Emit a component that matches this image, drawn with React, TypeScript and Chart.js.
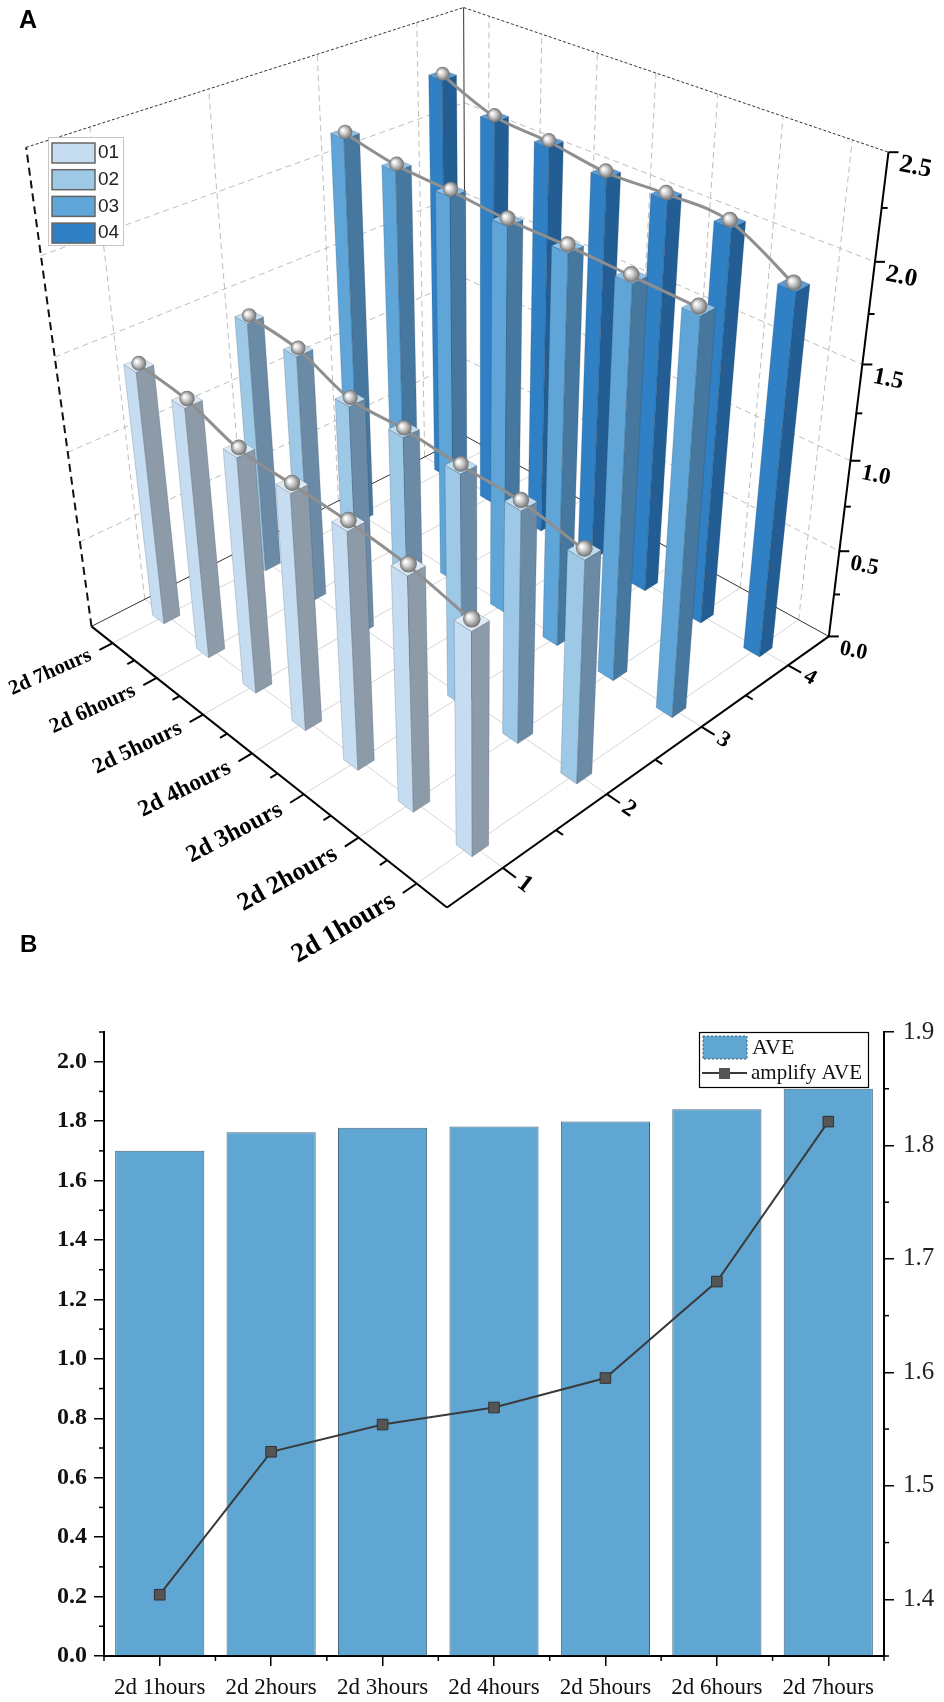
import { useEffect, useRef } from "react"
import Chart from "chart.js/auto"

// ---- panel A: four runs (rows) over seven time points ----
const hourLabels = ["2d 1hours", "2d 2hours", "2d 3hours", "2d 4hours", "2d 5hours", "2d 6hours", "2d 7hours"]
const seriesNames = ["01", "02", "03", "04"]
const series01 = [1.17, 1.24, 1.27, 1.28, 1.29, 1.38, 1.41]
const series02 = [1.19, 1.25, 1.26, 1.28, 1.28, 1.39, 1.42]
const series03 = [2.06, 2.07, 2.08, 2.08, 2.1, 2.11, 2.16]
const series04 = [1.94, 2.11, 2.12, 2.11, 2.15, 2.17, 2.28]
const depthTicks = [1, 2, 3, 4]
const zTicks = [0, 0.5, 1, 1.5, 2, 2.5]

// ---- panel B: average and amplified average ----
const aveValues = [1.7, 1.763, 1.778, 1.782, 1.799, 1.84, 1.909]
const amplifyAve = [1.404, 1.53, 1.554, 1.569, 1.595, 1.68, 1.821]
const leftTicks = [0, 0.2, 0.4, 0.6, 0.8, 1.0, 1.2, 1.4, 1.6, 1.8, 2.0]
const rightTicks = [1.4, 1.5, 1.6, 1.7, 1.8, 1.9]

const seriesFront = ["#c6dcf0", "#9dc8e6", "#5fa5d8", "#2f80c4"]
const seriesSide = ["#8d9aa8", "#6a8aa5", "#45779f", "#225e93"]
const seriesTop = ["#dfeaf5", "#c0dcef", "#8fc1e5", "#5d9dd3"]
const aveColor = "#5fa6d2"
const SERIF = '"Liberation Serif", "Times New Roman", serif'
const SANS = '"Liberation Sans", Arial, sans-serif'

// where the unit box (hours, depth, value all mapped to 0..1) sits on the canvas
const frameAnchors = [
  [0, 0, 0, 447, 908],
  [1, 0, 0, 92, 627],
  [0, 1, 0, 828, 636],
  [0, 1, 1, 888, 152],
  [1, 0, 1, 27, 147],
  [1, 1, 1, 463, 7],
  [0, 1, 0.2, 840, 552],
  [0, 1, 0.4, 850, 462],
  [0, 1, 0.6, 863, 365],
  [0, 1, 0.8, 875, 262],
  [0.5 / 7, 0, 0, 416, 884],
  [3.5 / 7, 0, 0, 250, 752],
  [6.5 / 7, 0, 0, 113, 644],
  [0, 1.5 / 4, 0, 608, 793],
  [0, 3.5 / 4, 0, 789, 664],
]

// least squares fit of a perspective camera (DLT)
function fitCamera(pts: number[][]) {
  const rows: number[][] = []
  for (const [a, b, c, px, py] of pts) {
    const u = px / 1000
    const v = py / 1000
    rows.push([a, b, c, 1, 0, 0, 0, 0, -u * a, -u * b, -u * c, u])
    rows.push([0, 0, 0, 0, a, b, c, 1, -v * a, -v * b, -v * c, v])
  }
  const n = 11
  const m = Array.from({ length: n }, () => new Array(n + 1).fill(0))
  for (const r of rows)
    for (let i = 0; i < n; i++) {
      for (let j = 0; j < n; j++) m[i][j] += r[i] * r[j]
      m[i][n] += r[i] * r[n]
    }
  for (let col = 0; col < n; col++) {
    let piv = col
    for (let r = col + 1; r < n; r++) if (Math.abs(m[r][col]) > Math.abs(m[piv][col])) piv = r
    const tmp = m[col]
    m[col] = m[piv]
    m[piv] = tmp
    for (let r = 0; r < n; r++) {
      if (r === col) continue
      const f = m[r][col] / m[col][col]
      for (let j = col; j <= n; j++) m[r][j] -= f * m[col][j]
    }
  }
  return m.map((r, i) => r[n] / r[i])
}

const cam = fitCamera(frameAnchors)

function proj(a: number, b: number, c: number) {
  const w = cam[8] * a + cam[9] * b + cam[10] * c + 1
  return {
    x: (1000 * (cam[0] * a + cam[1] * b + cam[2] * c + cam[3])) / w,
    y: (1000 * (cam[4] * a + cam[5] * b + cam[6] * c + cam[7])) / w,
    w,
  }
}

const box3dPlugin = {
  id: "box3d",
  afterDraw(chart: any) {
    const ctx: CanvasRenderingContext2D = chart.ctx
    const sx = chart.scales.x
    const sy = chart.scales.y
    const sd = chart.scales.depth
    const ha = (k: number) => (k - sx.min) / (sx.max - sx.min)
    const db = (d: number) => (d - sd.min) / (sd.max - sd.min)
    const vc = (v: number) => (v - sy.min) / (sy.max - sy.min)
    const wRef = proj(0.5, 0.5, 0).w

    const seg = (p: number[], q: number[]) => {
      const A = proj(p[0], p[1], p[2])
      const B = proj(q[0], q[1], q[2])
      ctx.beginPath()
      ctx.moveTo(A.x, A.y)
      ctx.lineTo(B.x, B.y)
      ctx.stroke()
    }
    const face = (pts: number[][], fill: string) => {
      ctx.beginPath()
      pts.forEach((p, i) => {
        const P = proj(p[0], p[1], p[2])
        if (i) ctx.lineTo(P.x, P.y)
        else ctx.moveTo(P.x, P.y)
      })
      ctx.closePath()
      ctx.fillStyle = fill
      ctx.fill()
      ctx.stroke()
    }
    const text = (s: string, x: number, y: number, angle: number, font: string, align: CanvasTextAlign) => {
      ctx.save()
      ctx.translate(x, y)
      ctx.rotate(angle)
      ctx.font = font
      ctx.textAlign = align
      ctx.textBaseline = "middle"
      ctx.fillStyle = "#000"
      ctx.fillText(s, 0, 0)
      ctx.restore()
    }

    ctx.save()
    ctx.lineWidth = 1

    // floor grid
    ctx.strokeStyle = "#d6d6d6"
    ctx.setLineDash([])
    hourLabels.forEach((_, k) => seg([ha(k), 0, 0], [ha(k), 1, 0]))
    depthTicks.forEach((d) => seg([0, db(d), 0], [1, db(d), 0]))

    // wall grids
    ctx.strokeStyle = "#bdbdbd"
    ctx.setLineDash([6, 4])
    depthTicks.forEach((d) => seg([1, db(d), 0], [1, db(d), 1]))
    hourLabels.forEach((_, k) => seg([ha(k), 1, 0], [ha(k), 1, 1]))
    zTicks.slice(1, -1).forEach((v) => {
      seg([1, 0, vc(v)], [1, 1, vc(v)])
      seg([1, 1, vc(v)], [0, 1, vc(v)])
    })

    // box edges
    ctx.strokeStyle = "#333"
    ctx.setLineDash([])
    seg([1, 0, 0], [1, 1, 0])
    seg([0, 1, 0], [1, 1, 0])
    seg([1, 1, 0], [1, 1, 1])
    ctx.setLineDash([3, 2])
    seg([1, 0, 1], [1, 1, 1])
    seg([1, 1, 1], [0, 1, 1])
    ctx.lineWidth = 2
    ctx.strokeStyle = "#111"
    ctx.setLineDash([8, 5])
    seg([1, 0, 0], [1, 0, 1])

    // axes
    ctx.setLineDash([])
    ctx.strokeStyle = "#000"
    ctx.lineWidth = 2
    seg([0, 0, 0], [1, 0, 0])
    seg([0, 0, 0], [0, 1, 0])
    seg([0, 1, 0], [0, 1, 1])

    const wMid = proj(ha(3), 0, 0).w
    hourLabels.forEach((lab, k) => {
      seg([ha(k), 0, 0], [ha(k), -0.03, 0])
      if (k < hourLabels.length - 1) seg([ha(k + 0.5), 0, 0], [ha(k + 0.5), -0.016, 0])
      const p = proj(ha(k), -0.05, 0)
      const q = proj(ha(k), 0.1, 0)
      const o = proj(ha(k), 0, 0)
      const size = 23.5 * Math.pow(wMid / o.w, 1.6)
      const angle = 0.87 * Math.atan2(q.y - o.y, q.x - o.x)
      text(lab, p.x, p.y, angle, `bold ${size.toFixed(1)}px ${SERIF}`, "right")
    })
    depthTicks.forEach((d, i) => {
      seg([0, db(d), 0], [-0.03, db(d), 0])
      if (i < depthTicks.length - 1) seg([0, db(d + 0.5), 0], [-0.016, db(d + 0.5), 0])
      const p = proj(-0.05, db(d), 0)
      const o = proj(0, db(d), 0)
      const q = proj(0.1, db(d), 0)
      const size = 21 * (wRef / o.w)
      text(String(d), p.x, p.y, Math.atan2(o.y - q.y, o.x - q.x), `bold ${size.toFixed(1)}px ${SERIF}`, "center")
    })
    zTicks.forEach((v, i) => {
      const o = proj(0, 1, vc(v))
      ctx.beginPath()
      ctx.moveTo(o.x, o.y)
      ctx.lineTo(o.x + 10, o.y)
      ctx.stroke()
      if (i < zTicks.length - 1) {
        const m = proj(0, 1, vc(v + 0.25))
        ctx.beginPath()
        ctx.moveTo(m.x, m.y)
        ctx.lineTo(m.x + 6, m.y)
        ctx.stroke()
      }
      const size = 22 * (wRef / o.w)
      text(v.toFixed(1), o.x + 11, o.y + 12, 0.2, `bold ${size.toFixed(1)}px ${SERIF}`, "left")
    })

    // bars, back row first, each row from the far end forward
    const hw = 0.019
    ctx.lineWidth = 0.6
    for (let s = chart.data.datasets.length - 1; s >= 0; s--) {
      const ds = chart.data.datasets[s]
      const b = db(s + 1)
      for (let k = ds.data.length - 1; k >= 0; k--) {
        const a = ha(ds.data[k].x)
        const c = vc(ds.data[k].y)
        ctx.strokeStyle = "rgba(40,60,80,0.35)"
        face([[a - hw, b - hw, 0], [a + hw, b - hw, 0], [a + hw, b - hw, c], [a - hw, b - hw, c]], seriesFront[s])
        face([[a - hw, b - hw, 0], [a - hw, b + hw, 0], [a - hw, b + hw, c], [a - hw, b - hw, c]], seriesSide[s])
        face([[a - hw, b - hw, c], [a + hw, b - hw, c], [a + hw, b + hw, c], [a - hw, b + hw, c]], seriesTop[s])
      }
      // connecting line through the bar tops
      const pts = ds.data.map((p: any) => proj(ha(p.x), b, vc(p.y)))
      ctx.strokeStyle = "#8f8f8f"
      ctx.lineWidth = 3
      ctx.beginPath()
      ctx.moveTo(pts[0].x, pts[0].y)
      for (let i = 0; i < pts.length - 1; i++) {
        const p0 = pts[i - 1] || pts[i]
        const p1 = pts[i]
        const p2 = pts[i + 1]
        const p3 = pts[i + 2] || p2
        ctx.bezierCurveTo(
          p1.x + (p2.x - p0.x) / 6, p1.y + (p2.y - p0.y) / 6,
          p2.x - (p3.x - p1.x) / 6, p2.y - (p3.y - p1.y) / 6,
          p2.x, p2.y,
        )
      }
      ctx.stroke()
      ctx.lineWidth = 0.6
      pts.forEach((p: any) => {
        const r = 7 * (wRef / p.w)
        const g = ctx.createRadialGradient(p.x - r * 0.35, p.y - r * 0.45, r * 0.1, p.x, p.y - r * 0.2, r)
        g.addColorStop(0, "#ffffff")
        g.addColorStop(0.4, "#cfcfcf")
        g.addColorStop(1, "#6f6f6f")
        ctx.beginPath()
        ctx.arc(p.x, p.y - r * 0.2, r, 0, Math.PI * 2)
        ctx.fillStyle = g
        ctx.fill()
      })
    }

    // legend box
    ctx.fillStyle = "#fff"
    ctx.strokeStyle = "#c4c4c4"
    ctx.lineWidth = 1
    ctx.fillRect(48, 137, 75, 108)
    ctx.strokeRect(48.5, 137.5, 75, 108)
    chart.data.datasets.forEach((ds: any, i: number) => {
      const y = 143 + i * 26.7
      ctx.fillStyle = seriesFront[i]
      ctx.fillRect(52, y, 43, 20)
      ctx.strokeStyle = "#666"
      ctx.lineWidth = 1.5
      ctx.strokeRect(52, y, 43, 20)
      ctx.fillStyle = "#222"
      ctx.font = `19px ${SANS}`
      ctx.textAlign = "left"
      ctx.textBaseline = "middle"
      ctx.fillText(ds.label, 98, y + 10)
    })
    ctx.restore()
  },
}

function Panel3D() {
  const canvasRef = useRef<HTMLCanvasElement>(null)
  useEffect(() => {
    if (!canvasRef.current) return
    const rows = [series01, series02, series03, series04]
    const chart = new Chart(canvasRef.current, {
      type: "scatter",
      data: {
        datasets: rows.map((vals, i) => ({
          label: seriesNames[i],
          data: vals.map((v, k) => ({ x: k, y: v })),
          pointRadius: 0,
        })),
      },
      options: {
        responsive: false,
        animation: false,
        events: [],
        layout: { padding: 0 },
        plugins: { legend: { display: false }, tooltip: { enabled: false } },
        scales: {
          x: { type: "linear", min: -0.5, max: 6.5, display: false },
          y: { type: "linear", min: 0, max: 2.5, display: false },
          depth: { type: "linear", axis: "x", position: "bottom", min: 0.5, max: 4.5, display: false },
        },
      } as any,
      plugins: [box3dPlugin],
    })
    return () => chart.destroy()
  }, [])
  return <canvas ref={canvasRef} width={944} height={975} style={{ position: "absolute", left: 0, top: 0 }} />
}

const panelBDecor = {
  id: "panelBDecor",
  afterDraw(chart: any) {
    const { ctx, chartArea } = chart
    const yl = chart.scales.y
    const yr = chart.scales.y1
    const x = chart.scales.x
    ctx.save()
    ctx.strokeStyle = "#000"
    ctx.lineWidth = 1.5
    const hline = (x0: number, x1: number, y: number) => {
      ctx.beginPath()
      ctx.moveTo(x0, y)
      ctx.lineTo(x1, y)
      ctx.stroke()
    }
    // minor ticks
    leftTicks.forEach((v) => {
      const py = yl.getPixelForValue(v + 0.1)
      if (py >= chartArea.top - 1) hline(chartArea.left - 5, chartArea.left, py)
    })
    rightTicks.forEach((v) => {
      const py = yr.getPixelForValue(v - 0.05)
      hline(chartArea.right, chartArea.right + 5, py)
    })
    for (let i = 0; i <= hourLabels.length; i++) {
      const px =
        i === 0 ? chartArea.left : i === hourLabels.length ? chartArea.right : (x.getPixelForValue(i - 1) + x.getPixelForValue(i)) / 2
      ctx.beginPath()
      ctx.moveTo(px, chartArea.bottom)
      ctx.lineTo(px, chartArea.bottom + 5)
      ctx.stroke()
    }

    // legend in the upper right corner of the plot
    const bar = chart.data.datasets.find((d: any) => d.type === "bar")
    const line = chart.data.datasets.find((d: any) => d.type === "line")
    const lx = chartArea.right - 185
    const ly = chartArea.top
    ctx.fillStyle = "#fff"
    ctx.fillRect(lx, ly, 169, 55)
    ctx.lineWidth = 1.2
    ctx.strokeRect(lx + 0.5, ly + 0.5, 169, 55)
    ctx.fillStyle = bar.backgroundColor
    ctx.fillRect(lx + 4, ly + 4, 44, 23)
    ctx.setLineDash([2, 2])
    ctx.lineWidth = 1
    ctx.strokeStyle = "#44606f"
    ctx.strokeRect(lx + 4, ly + 4, 44, 23)
    ctx.setLineDash([])
    ctx.strokeStyle = line.borderColor
    ctx.lineWidth = 2
    hline(lx + 3, lx + 48, ly + 41)
    ctx.fillStyle = line.pointBackgroundColor
    ctx.fillRect(lx + 20, ly + 36, 11, 11)
    ctx.fillStyle = "#111"
    ctx.font = `22px ${SERIF}`
    ctx.textBaseline = "middle"
    ctx.textAlign = "left"
    ctx.fillText(bar.label, lx + 53, ly + 16)
    ctx.font = `21px ${SERIF}`
    ctx.fillText(line.label, lx + 52, ly + 41)
    ctx.restore()
  },
}

function PanelB() {
  const canvasRef = useRef<HTMLCanvasElement>(null)
  useEffect(() => {
    if (!canvasRef.current) return
    const axisGrid = { drawOnChartArea: false, color: "#000", tickLength: 10, lineWidth: 1.5 }
    const axisBorder = { color: "#000", width: 2 }
    const chart = new Chart(canvasRef.current, {
      type: "bar",
      data: {
        labels: hourLabels,
        datasets: [
          {
            type: "line",
            label: "amplify AVE",
            data: amplifyAve,
            yAxisID: "y1",
            borderColor: "#3a3a3a",
            borderWidth: 2,
            pointStyle: "rect",
            pointRadius: 7.5,
            pointBackgroundColor: "#555555",
            pointBorderColor: "#333",
            pointBorderWidth: 1,
            tension: 0,
            order: 0,
          },
          {
            type: "bar",
            label: "AVE",
            data: aveValues,
            yAxisID: "y",
            backgroundColor: aveColor,
            borderColor: "#46657a",
            borderWidth: 1,
            barPercentage: 0.8,
            categoryPercentage: 1,
            order: 1,
          },
        ],
      },
      options: {
        responsive: false,
        animation: false,
        events: [],
        layout: { padding: { top: 57, left: 0, right: 0, bottom: 0 } },
        plugins: { legend: { display: false }, tooltip: { enabled: false } },
        scales: {
          x: {
            offset: true,
            grid: { ...axisGrid, offset: false },
            border: axisBorder,
            ticks: { font: { family: SERIF, size: 23 }, color: "#111", maxRotation: 0, autoSkip: false, padding: 8 },
            afterFit: (s: any) => {
              s.height = 46
            },
          },
          y: {
            position: "left",
            min: 0,
            max: 2.1,
            afterBuildTicks: (s: any) => {
              s.ticks = leftTicks.map((v) => ({ value: v }))
            },
            grid: axisGrid,
            border: axisBorder,
            ticks: {
              font: { family: SERIF, size: 24, weight: "bold" },
              color: "#111",
              padding: 7,
              callback: (v: any) => Number(v).toFixed(1),
            },
            afterFit: (s: any) => {
              s.width = 104
            },
          },
          y1: {
            position: "right",
            min: 1.35,
            max: 1.9,
            afterBuildTicks: (s: any) => {
              s.ticks = rightTicks.map((v) => ({ value: v }))
            },
            grid: axisGrid,
            border: axisBorder,
            ticks: {
              font: { family: SERIF, size: 25 },
              color: "#222",
              padding: 9,
              callback: (v: any) => Number(v).toFixed(1),
            },
            afterFit: (s: any) => {
              s.width = 60
            },
          },
        },
      } as any,
      plugins: [panelBDecor],
    })
    return () => chart.destroy()
  }, [])
  return <canvas ref={canvasRef} width={944} height={727} style={{ position: "absolute", left: 0, top: 975 }} />
}

export default function App() {
  return (
    <div style={{ position: "absolute", left: 0, top: 0, width: 944, height: 1702, background: "#fff", overflow: "hidden" }}>
      <Panel3D />
      <PanelB />
      <div style={{ position: "absolute", left: 19, top: 5, font: `bold 25px ${SANS}` }}>A</div>
      <div style={{ position: "absolute", left: 20, top: 930, font: `bold 24px ${SANS}` }}>B</div>
    </div>
  )
}
